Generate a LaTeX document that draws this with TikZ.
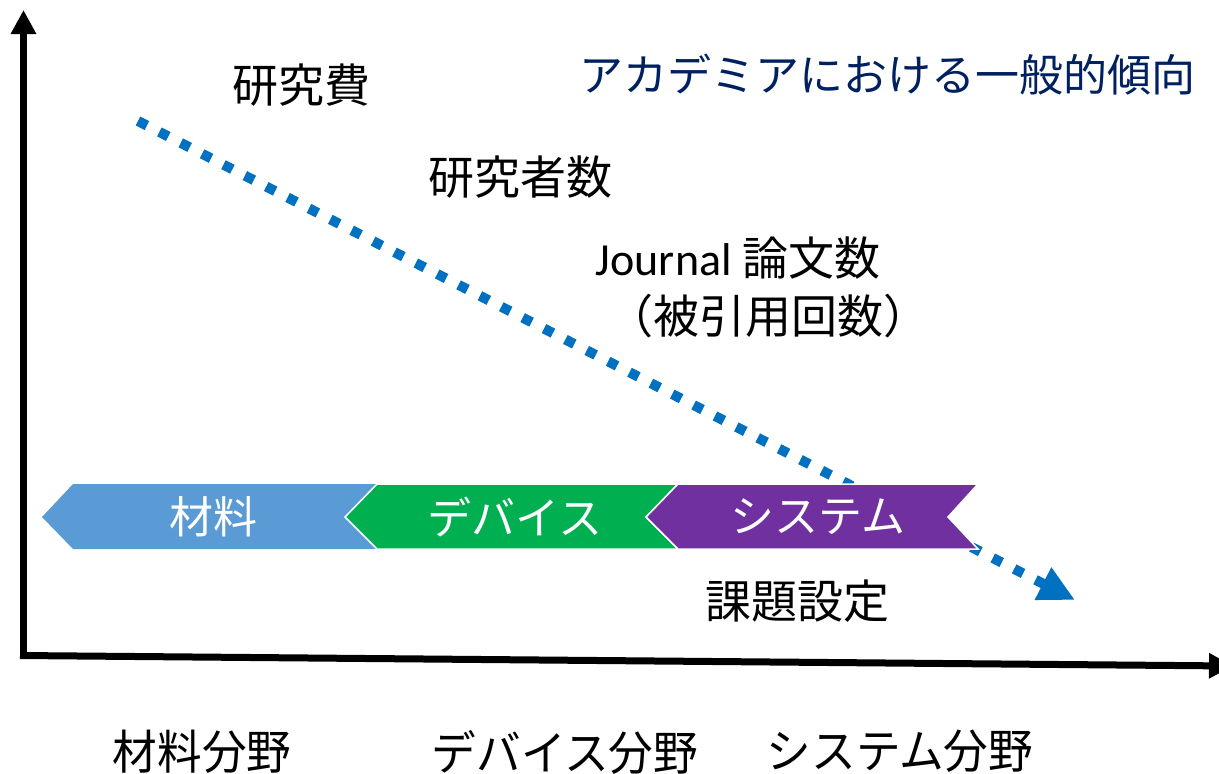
\documentclass[tikz,border=0pt]{standalone}
\usepackage{fontspec}
\newfontfamily\jpf{Noto Sans CJK JP}
\newfontfamily\latf{Carlito}
\usetikzlibrary{arrows.meta}
\definecolor{cblue}{HTML}{5B9BD5}
\definecolor{cgreen}{HTML}{00B050}
\definecolor{cpurple}{HTML}{7030A0}
\definecolor{arrowblue}{HTML}{0070C0}
\definecolor{navy}{HTML}{002060}
\begin{document}
\begin{tikzpicture}[x=1pt,y=-1pt,
  lbl/.style={inner sep=0pt, font=\jpf\fontsize{46}{46}\selectfont},
  ttl/.style={inner sep=0pt, text=navy, font=\jpf\fontsize{44}{44}\selectfont},
  chev/.style={draw=white, line width=1.5pt, line join=miter},
  chevtext/.style={inner sep=0pt, text=white, font=\jpf\fontsize{44}{44}\selectfont},
  field/.style={inner sep=0pt, anchor=north, xscale=0.95, font=\jpf\fontsize{47}{47}\selectfont},
  axisline/.style={line width=7pt, -{Triangle[length=24pt,width=24pt]}},
  trend/.style={arrowblue, line width=10pt, dash pattern=on 10pt off 14pt, -{Triangle[length=36pt,width=34pt]}}
]
\useasboundingbox (0,0) rectangle (1219,774);
% axes
\coordinate (o) at (23.5,659);
\coordinate (ytop) at (23.5,10);
\coordinate (xo) at (20,655.5);
\coordinate (xend) at (1233,666);
\draw[axisline] (o) -- (ytop);
\draw[axisline] (xo) -- (xend);
% trend arrow
\coordinate (ds) at (138,121);
\coordinate (de) at (1075,600);
\draw[trend] (ds) -- (de);
% chevrons
\fill[cblue] (73,484) -- (378,484) -- (346,517) -- (378,549) -- (73,549) -- (42,517) -- cycle;
\filldraw[fill=cgreen, chev] (377,484) -- (678,484) -- (646,517) -- (678,549) -- (377,549) -- (345,517) -- cycle;
\filldraw[fill=cpurple, chev] (678,484) -- (978,484) -- (948,517) -- (978,549) -- (678,549) -- (646,517) -- cycle;
\node[chevtext] (mat) at (213,517) {材料};
\node[chevtext] (dev) at (515,517) {デバイス};
\node[chevtext] (sys) at (818,517) {システム};
% labels
\node[ttl] (title) at (887,75) {アカデミアにおける一般的傾向};
\node[lbl] (hi) at (301,85) {研究費};
\node[lbl] (res) at (520,177) {研究者数};
\node[lbl] (jour) at (738,258) {{\latf Journal} 論文数};
\node[lbl] (cit) at (768,316) {（被引用回数）};
\node[lbl] (task) at (797,601) {課題設定};
% fields
\node[field] (f1) at (202,730) {材料分野};
\node[field] (f2) at (565,730) {デバイス分野};
\node[field] (f3) at (900,730) {システム分野};
\end{tikzpicture}
\end{document}
